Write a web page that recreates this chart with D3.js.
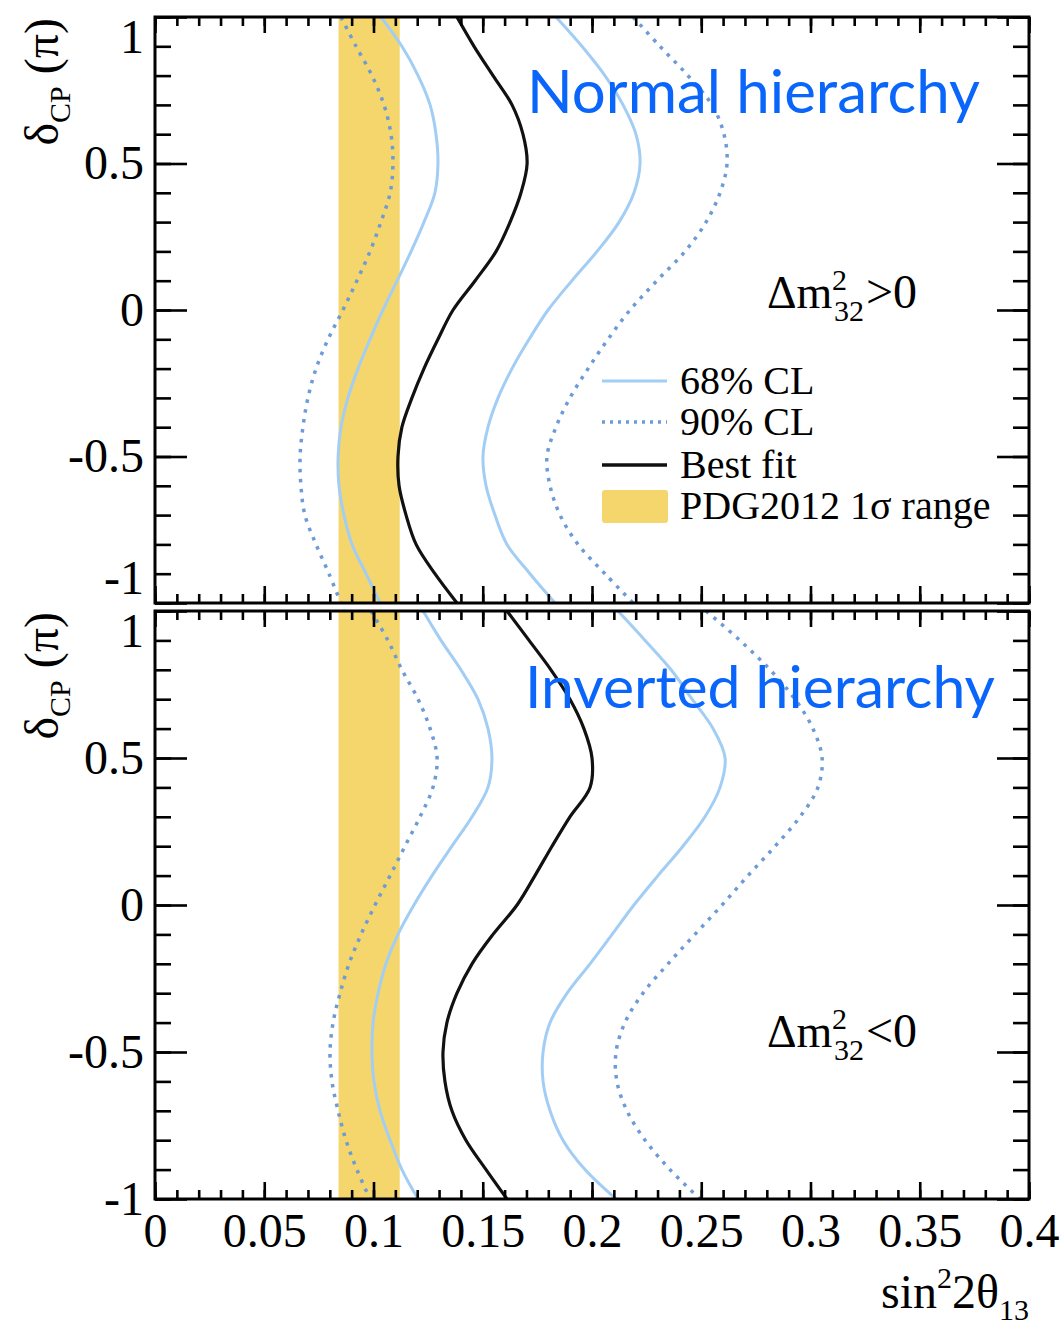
<!DOCTYPE html>
<html>
<head>
<meta charset="utf-8">
<script src="https://cdn.jsdelivr.net/npm/d3@7"></script>
<style>
  body { margin: 0; background: #fff; }
  svg { display: block; }
</style>
</head>
<body>
<svg id="chart" width="1064" height="1325"></svg>
<script>
// δCP grid (in units of π), from +1 down to -1
const deltaCP = [1, 0.9, 0.8, 0.7, 0.6, 0.5, 0.4, 0.3, 0.2, 0.1, 0, -0.1, -0.2, -0.3, -0.4, -0.5, -0.6, -0.7, -0.8, -0.9, -1];

// Normal hierarchy (Δm²32 > 0): sin²2θ13 at each δCP
const nhBestFit = [0.1382, 0.1460, 0.1547, 0.1634, 0.1684, 0.1703, 0.1675, 0.1625, 0.1561, 0.1465, 0.1364, 0.1295, 0.1231, 0.1176, 0.1130, 0.1112, 0.1117, 0.1149, 0.1195, 0.1281, 0.1382];
const nh68Low   = [0.1034, 0.1130, 0.1204, 0.1259, 0.1286, 0.1295, 0.1281, 0.1231, 0.1172, 0.1108, 0.1043, 0.0984, 0.0929, 0.0883, 0.0851, 0.0838, 0.0842, 0.0865, 0.0902, 0.0966, 0.1030];
const nh68High  = [0.1835, 0.1954, 0.2059, 0.2142, 0.2201, 0.2220, 0.2192, 0.2124, 0.2023, 0.1908, 0.1799, 0.1712, 0.1634, 0.1570, 0.1524, 0.1501, 0.1515, 0.1556, 0.1611, 0.1716, 0.1831];
const nh90Low   = [0.0851, 0.0920, 0.0993, 0.1048, 0.1080, 0.1089, 0.1076, 0.1034, 0.0984, 0.0924, 0.0860, 0.0792, 0.0737, 0.0700, 0.0677, 0.0664, 0.0668, 0.0686, 0.0737, 0.0796, 0.0851];
const nh90High  = [0.2188, 0.2311, 0.2439, 0.2549, 0.2604, 0.2618, 0.2586, 0.2522, 0.2426, 0.2297, 0.2174, 0.2073, 0.1982, 0.1899, 0.1835, 0.1794, 0.1808, 0.1854, 0.1936, 0.2059, 0.2188];

// Inverted hierarchy (Δm²32 < 0)
const ihBestFit = [0.1611, 0.1712, 0.1812, 0.1899, 0.1963, 0.2000, 0.1991, 0.1899, 0.1817, 0.1739, 0.1657, 0.1547, 0.1451, 0.1382, 0.1336, 0.1318, 0.1327, 0.1359, 0.1423, 0.1515, 0.1611];
const ih68Low   = [0.1227, 0.1309, 0.1400, 0.1478, 0.1524, 0.1542, 0.1524, 0.1451, 0.1359, 0.1268, 0.1185, 0.1112, 0.1057, 0.1021, 0.0998, 0.0993, 0.1002, 0.1030, 0.1076, 0.1130, 0.1204];
const ih68High  = [0.2119, 0.2243, 0.2362, 0.2458, 0.2554, 0.2609, 0.2586, 0.2517, 0.2416, 0.2302, 0.2192, 0.2092, 0.1991, 0.1886, 0.1808, 0.1776, 0.1776, 0.1808, 0.1867, 0.1968, 0.2110];
const ih90Low   = [0.0989, 0.1066, 0.1130, 0.1204, 0.1259, 0.1291, 0.1272, 0.1213, 0.1144, 0.1076, 0.1007, 0.0943, 0.0888, 0.0847, 0.0815, 0.0801, 0.0810, 0.0838, 0.0874, 0.0924, 0.0984];
const ih90High  = [0.2522, 0.2677, 0.2815, 0.2929, 0.3011, 0.3053, 0.3034, 0.2952, 0.2838, 0.2714, 0.2595, 0.2471, 0.2348, 0.2233, 0.2151, 0.2110, 0.2114, 0.2160, 0.2243, 0.2357, 0.2494];

// PDG2012 1σ range of sin²2θ13
const pdgBand = [0.084, 0.112];

// Axis ticks and labels
const xMajorTicks = [0, 0.05, 0.1, 0.15, 0.2, 0.25, 0.3, 0.35, 0.4];
const xTickLabels = ["0", "0.05", "0.1", "0.15", "0.2", "0.25", "0.3", "0.35", "0.4"];
const xMinorTicks = d3.range(0, 41).map(i => i / 100);
const yMajorTicks = [1, 0.5, 0, -0.5, -1];
const yTickLabels = ["1", "0.5", "0", "-0.5", "-1"];
const yMinorTicks = d3.range(-10, 11).map(i => i / 10);

const legendLabels = ["68% CL", "90% CL", "Best fit", "PDG2012 1σ range"];
const panelTitles = ["Normal hierarchy", "Inverted hierarchy"];
const massSigns = [">0", "<0"];

const COL_68 = "#a2cdf4";
const COL_90 = "#6c9bd6";
const COL_BAND = "#f5d66c";
const COL_TITLE = "#0a66fa";
const SERIF = "'Liberation Serif', 'Times New Roman', serif";

const svg = d3.select("#chart");
const left = 155, right = 1029;
const x = d3.scaleLinear().domain([0, 0.4]).range([left, right]);

const panels = [
  { top: 17, bottom: 603, curves: { best: nhBestFit, l68: nh68Low, h68: nh68High, l90: nh90Low, h90: nh90High },
    title: panelTitles[0], titleX: 527, titleY: 113, titleW: 453,
    sign: massSigns[0], signY: 308, legend: true, xLabels: false, endLabelShift: [20, -25], axTitleEnd: 18 },
  { top: 611, bottom: 1199, curves: { best: ihBestFit, l68: ih68Low, h68: ih68High, l90: ih90Low, h90: ih90High },
    title: panelTitles[1], titleX: 525, titleY: 708, titleW: 470,
    sign: massSigns[1], signY: 1047, legend: false, xLabels: true, endLabelShift: [20, 0], axTitleEnd: 612 }
];

panels.forEach((p, pi) => {
  const y = d3.scaleLinear().domain([-1, 1]).range([p.bottom, p.top]);
  const g = svg.append("g");

  const clipId = "clip" + pi;
  svg.append("clipPath").attr("id", clipId)
    .append("rect").attr("x", left).attr("y", p.top).attr("width", right - left).attr("height", p.bottom - p.top);

  const plot = g.append("g").attr("clip-path", `url(#${clipId})`);

  // PDG band
  plot.append("rect")
    .attr("x", x(pdgBand[0])).attr("width", x(pdgBand[1]) - x(pdgBand[0]))
    .attr("y", y(1)).attr("height", y(-1) - y(1))
    .attr("fill", COL_BAND);

  const line = d3.line()
    .x(d => x(d[0])).y(d => y(d[1]))
    .curve(d3.curveCatmullRom.alpha(0.5));
  const pts = arr => arr.map((v, i) => [v, deltaCP[i]]);

  [p.curves.l90, p.curves.h90].forEach(c => {
    plot.append("path").attr("d", line(pts(c)))
      .attr("fill", "none").attr("stroke", COL_90).attr("stroke-width", 3.5)
      .attr("stroke-dasharray", "3.5,6.5");
  });
  [p.curves.l68, p.curves.h68].forEach(c => {
    plot.append("path").attr("d", line(pts(c)))
      .attr("fill", "none").attr("stroke", COL_68).attr("stroke-width", 3);
  });
  plot.append("path").attr("d", line(pts(p.curves.best)))
    .attr("fill", "none").attr("stroke", "#111").attr("stroke-width", 3.2);

  // Axes with ticks on all four sides, pointing inward
  const axes = g.append("g").attr("class", "axes");
  const tickStyle = sel => {
    sel.select(".domain").remove();
    sel.selectAll(".tick line").attr("stroke", "#000").attr("stroke-width", 2.6);
  };
  axes.append("g").attr("transform", `translate(0,${p.bottom})`)
    .call(d3.axisBottom(x).tickValues(xMinorTicks).tickSize(-9).tickFormat("")).call(tickStyle);
  const xb = axes.append("g").attr("transform", `translate(0,${p.bottom})`)
    .call(d3.axisBottom(x).tickValues(xMajorTicks).tickSize(-17).tickPadding(14)
      .tickFormat((d, i) => p.xLabels ? xTickLabels[i] : "")).call(tickStyle);
  axes.append("g").attr("transform", `translate(0,${p.top})`)
    .call(d3.axisTop(x).tickValues(xMinorTicks).tickSize(-9).tickFormat("")).call(tickStyle);
  axes.append("g").attr("transform", `translate(0,${p.top})`)
    .call(d3.axisTop(x).tickValues(xMajorTicks).tickSize(-16).tickFormat("")).call(tickStyle);

  axes.append("g").attr("transform", `translate(${left},0)`)
    .call(d3.axisLeft(y).tickValues(yMinorTicks).tickSize(-16).tickFormat("")).call(tickStyle);
  const yl = axes.append("g").attr("transform", `translate(${left},0)`)
    .call(d3.axisLeft(y).tickValues(yMajorTicks).tickSize(-32).tickPadding(11)
      .tickFormat((d, i) => yTickLabels[i])).call(tickStyle);
  axes.append("g").attr("transform", `translate(${right},0)`)
    .call(d3.axisRight(y).tickValues(yMinorTicks).tickSize(-16).tickFormat("")).call(tickStyle);
  axes.append("g").attr("transform", `translate(${right},0)`)
    .call(d3.axisRight(y).tickValues(yMajorTicks).tickSize(-32).tickFormat("")).call(tickStyle);

  [xb, yl].forEach(a => a.selectAll("text")
    .attr("font-family", SERIF).attr("font-size", 48).attr("fill", "#000"));
  // end labels nudged inward so they do not collide with the neighbouring panel
  yl.selectAll(".tick").filter(d => d === 1).select("text")
    .attr("transform", `translate(0,${p.endLabelShift[0]})`);
  yl.selectAll(".tick").filter(d => d === -1).select("text")
    .attr("transform", `translate(0,${p.endLabelShift[1]})`);

  // frame
  g.append("rect").attr("x", left).attr("y", p.top)
    .attr("width", right - left).attr("height", p.bottom - p.top)
    .attr("fill", "none").attr("stroke", "#000").attr("stroke-width", 3);

  // y-axis title δCP (π)
  const yt = g.append("text")
    .attr("transform", `translate(58,${p.axTitleEnd}) rotate(-90)`)
    .attr("text-anchor", "end")
    .attr("font-family", SERIF).attr("font-size", 48).attr("fill", "#000");
  yt.append("tspan").text("δ");
  yt.append("tspan").attr("font-size", 30).attr("dy", 12).text("CP");
  yt.append("tspan").attr("dy", -12).text(" (π)");

  // hierarchy title
  const t = g.append("text")
    .attr("x", p.titleX).attr("y", p.titleY)
    .attr("font-family", "Lato, 'Open Sans', sans-serif").attr("font-size", 60)
    .attr("fill", COL_TITLE).text(p.title);
  const w = t.node().getComputedTextLength();
  t.attr("font-size", 60 * p.titleW / w);

  // Δm²32 sign label
  const s = g.append("g").attr("font-family", SERIF).attr("fill", "#000");
  s.append("text").attr("x", 767).attr("y", p.signY).attr("font-size", 46).text("Δm");
  s.append("text").attr("x", 832).attr("y", p.signY - 18).attr("font-size", 30).text("2");
  s.append("text").attr("x", 834).attr("y", p.signY + 13).attr("font-size", 30).text("32");
  s.append("text").attr("x", 866).attr("y", p.signY).attr("font-size", 48).text(p.sign);

  if (p.legend) {
    const lg = g.append("g");
    const lx0 = 602, lx1 = 667;
    const rows = [
      { y: 381, type: "l68" }, { y: 422, type: "l90" }, { y: 465, type: "best" }, { y: 506, type: "band" }
    ];
    rows.forEach((r, i) => {
      if (r.type === "band") {
        lg.append("rect").attr("x", lx0).attr("y", r.y - 16).attr("width", lx1 - lx0 + 1).attr("height", 33)
          .attr("rx", 3).attr("fill", COL_BAND);
      } else {
        const ln = lg.append("line").attr("x1", lx0).attr("x2", lx1).attr("y1", r.y).attr("y2", r.y);
        if (r.type === "l68") ln.attr("stroke", COL_68).attr("stroke-width", 3);
        if (r.type === "l90") ln.attr("stroke", COL_90).attr("stroke-width", 3.5).attr("stroke-dasharray", "3,5");
        if (r.type === "best") ln.attr("stroke", "#111").attr("stroke-width", 3.5);
      }
      lg.append("text").attr("x", 680).attr("y", r.y + 13)
        .attr("font-family", SERIF).attr("font-size", 40).attr("fill", "#000")
        .text(legendLabels[i]);
    });
  }
});

// x-axis title sin²2θ13
const xt = svg.append("text")
  .attr("x", 1029).attr("y", 1308).attr("text-anchor", "end")
  .attr("font-family", SERIF).attr("font-size", 48).attr("fill", "#000");
xt.append("tspan").text("sin");
xt.append("tspan").attr("font-size", 30).attr("dy", -20).text("2");
xt.append("tspan").attr("dy", 20).text("2θ");
xt.append("tspan").attr("font-size", 30).attr("dy", 12).text("13");
</script>
</body>
</html>
